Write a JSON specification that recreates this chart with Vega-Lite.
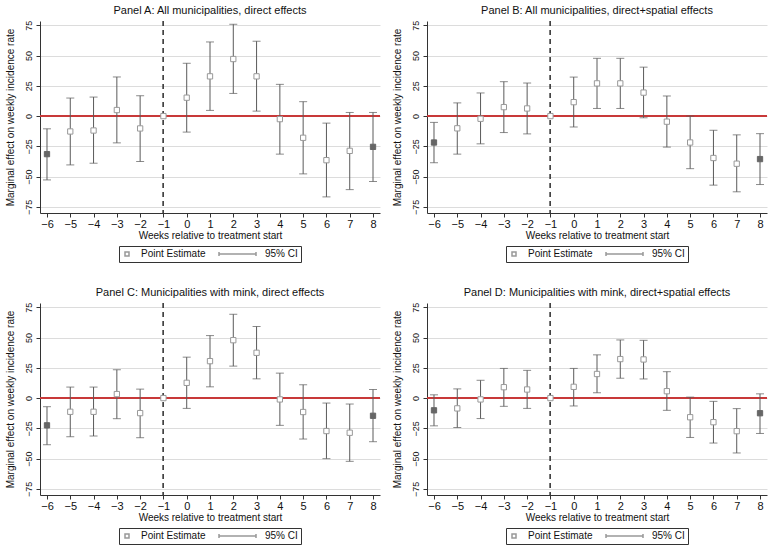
{
  "$schema": "https://vega.github.io/schema/vega-lite/v6.json",
  "background": "white",
  "padding": 5,
  "datasets": {
    "est": [
      {"panel": "A", "week": -6, "est": -31.4, "lo": -52.7, "hi": -10.5},
      {"panel": "A", "week": -5, "est": -12.7, "lo": -40.3, "hi": 14.9},
      {"panel": "A", "week": -4, "est": -11.9, "lo": -38.9, "hi": 15.7},
      {"panel": "A", "week": -3, "est": 5.0, "lo": -22.1, "hi": 32.3},
      {"panel": "A", "week": -2, "est": -10.2, "lo": -37.5, "hi": 16.8},
      {"panel": "A", "week": -1, "est": 0},
      {"panel": "A", "week": 0, "est": 15.2, "lo": -13.2, "hi": 43.6},
      {"panel": "A", "week": 1, "est": 32.8, "lo": 4.7, "hi": 61.2},
      {"panel": "A", "week": 2, "est": 47.1, "lo": 18.7, "hi": 75.8},
      {"panel": "A", "week": 3, "est": 32.8, "lo": 4.1, "hi": 61.8},
      {"panel": "A", "week": 4, "est": -2.5, "lo": -31.4, "hi": 26.2},
      {"panel": "A", "week": 5, "est": -17.9, "lo": -47.7, "hi": 11.9},
      {"panel": "A", "week": 6, "est": -36.4, "lo": -66.7, "hi": -5.8},
      {"panel": "A", "week": 7, "est": -28.7, "lo": -60.7, "hi": 3.0},
      {"panel": "A", "week": 8, "est": -25.4, "lo": -54.0, "hi": 3.0},

      {"panel": "B", "week": -6, "est": -21.8, "lo": -38.5, "hi": -5.2},
      {"panel": "B", "week": -5, "est": -10.1, "lo": -31.4, "hi": 10.9},
      {"panel": "B", "week": -4, "est": -2.2, "lo": -22.9, "hi": 19.1},
      {"panel": "B", "week": -3, "est": 7.4, "lo": -13.6, "hi": 28.4},
      {"panel": "B", "week": -2, "est": 6.3, "lo": -14.7, "hi": 27.3},
      {"panel": "B", "week": -1, "est": 0},
      {"panel": "B", "week": 0, "est": 11.5, "lo": -9.0, "hi": 32.2},
      {"panel": "B", "week": 1, "est": 27.0, "lo": 6.3, "hi": 47.7},
      {"panel": "B", "week": 2, "est": 27.0, "lo": 6.3, "hi": 47.7},
      {"panel": "B", "week": 3, "est": 19.4, "lo": -1.4, "hi": 40.4},
      {"panel": "B", "week": 4, "est": -4.6, "lo": -25.6, "hi": 16.6},
      {"panel": "B", "week": 5, "est": -21.8, "lo": -43.4, "hi": 0.0},
      {"panel": "B", "week": 6, "est": -34.6, "lo": -57.0, "hi": -11.7},
      {"panel": "B", "week": 7, "est": -39.3, "lo": -62.5, "hi": -15.5},
      {"panel": "B", "week": 8, "est": -35.5, "lo": -56.5, "hi": -14.5},

      {"panel": "C", "week": -6, "est": -22.5, "lo": -38.5, "hi": -7.1},
      {"panel": "C", "week": -5, "est": -11.3, "lo": -31.9, "hi": 9.1},
      {"panel": "C", "week": -4, "est": -11.3, "lo": -31.3, "hi": 9.1},
      {"panel": "C", "week": -3, "est": 3.3, "lo": -17.0, "hi": 23.4},
      {"panel": "C", "week": -2, "est": -12.4, "lo": -32.7, "hi": 7.4},
      {"panel": "C", "week": -1, "est": 0},
      {"panel": "C", "week": 0, "est": 12.6, "lo": -8.5, "hi": 33.8},
      {"panel": "C", "week": 1, "est": 30.5, "lo": 9.3, "hi": 51.6},
      {"panel": "C", "week": 2, "est": 47.8, "lo": 26.4, "hi": 69.2},
      {"panel": "C", "week": 3, "est": 37.4, "lo": 15.9, "hi": 59.1},
      {"panel": "C", "week": 4, "est": -1.1, "lo": -22.5, "hi": 20.6},
      {"panel": "C", "week": 5, "est": -11.5, "lo": -33.8, "hi": 11.0},
      {"panel": "C", "week": 6, "est": -27.2, "lo": -50.0, "hi": -4.1},
      {"panel": "C", "week": 7, "est": -28.6, "lo": -52.2, "hi": -4.9},
      {"panel": "C", "week": 8, "est": -14.6, "lo": -36.0, "hi": 7.1},

      {"panel": "D", "week": -6, "est": -10.1, "lo": -22.9, "hi": 2.7},
      {"panel": "D", "week": -5, "est": -8.5, "lo": -24.3, "hi": 7.6},
      {"panel": "D", "week": -4, "est": -1.1, "lo": -16.9, "hi": 14.7},
      {"panel": "D", "week": -3, "est": 9.0, "lo": -6.8, "hi": 24.5},
      {"panel": "D", "week": -2, "est": 7.1, "lo": -8.5, "hi": 22.9},
      {"panel": "D", "week": -1, "est": 0},
      {"panel": "D", "week": 0, "est": 9.3, "lo": -6.5, "hi": 24.5},
      {"panel": "D", "week": 1, "est": 19.9, "lo": 4.4, "hi": 35.7},
      {"panel": "D", "week": 2, "est": 32.2, "lo": 16.4, "hi": 48.0},
      {"panel": "D", "week": 3, "est": 31.9, "lo": 15.8, "hi": 47.7},
      {"panel": "D", "week": 4, "est": 5.7, "lo": -10.1, "hi": 21.8},
      {"panel": "D", "week": 5, "est": -15.8, "lo": -32.5, "hi": 0.8},
      {"panel": "D", "week": 6, "est": -19.9, "lo": -37.1, "hi": -2.7},
      {"panel": "D", "week": 7, "est": -27.3, "lo": -45.3, "hi": -8.7},
      {"panel": "D", "week": 8, "est": -12.5, "lo": -29.2, "hi": 3.5}
    ]
  },
  "config": {
    "font": "Liberation Sans",
    "view": {"stroke": null},
    "axis": {
      "labelFont": "Liberation Sans",
      "titleFont": "Liberation Sans",
      "labelFontSize": 11,
      "titleFontSize": 10,
      "titleFontWeight": "normal",
      "labelColor": "#111",
      "titleColor": "#111",
      "domainColor": "#333",
      "tickColor": "#333",
      "tickSize": 4
    },
    "axisY": {
      "labelFontSize": 9,
      "labelOverlap": false,
      "labelAngle": -90,
      "labelAlign": "center",
      "labelBaseline": "bottom",
      "labelPadding": 3,
      "titlePadding": 9,
      "grid": true,
      "gridColor": "#dcdcdc"
    },
    "title": {"font": "Liberation Sans", "fontSize": 11, "fontWeight": "normal", "color": "#111", "anchor": "middle", "offset": 4},
    "legend": {
      "orient": "bottom",
      "direction": "horizontal",
      "strokeColor": "#333",
      "padding": 3,
      "labelFont": "Liberation Sans",
      "labelFontSize": 10,
      "labelColor": "#111",
      "symbolSize": 16,
      "labelOffset": 9,
      "columnPadding": 10,
      "offset": 6,
      "layout": {"bottom": {"anchor": "middle", "bounds": "flush"}}
    }
  },
  "columns": 2,
  "spacing": {"row": 24, "column": 11},
  "resolve": {"scale": {"shape": "independent", "x": "independent", "y": "independent"}, "legend": {"shape": "independent"}},
  "concat": [
    {
      "title": "Panel A: All municipalities, direct effects",
      "width": 340, "height": 192,
      "data": {"name": "est"},
      "transform": [{"filter": "datum.panel == 'A'"}],
      "encoding": {
        "x": {"field": "week", "type": "quantitative", "scale": {"domain": [-6.3, 8.3], "nice": false, "zero": false},
              "axis": {"title": "Weeks relative to treatment start", "values": [-6,-5,-4,-3,-2,-1,0,1,2,3,4,5,6,7,8], "format": "d", "grid": false, "labelPadding": 1, "titlePadding": 1}}
      },
      "layer": [
        {"mark": {"type": "rule", "color": "#c83a3a", "strokeWidth": 1},
         "encoding": {"x": null, "y": {"datum": 0, "type": "quantitative", "scale": {"domain": [-80, 78.5], "nice": false},
           "axis": {"title": "Marginal effect on weekly incidence rate", "values": [-75,-50,-25,0,25,50,75], "labelOverlap": false, "grid": true, "labelAngle": -90, "labelAlign": "center", "labelBaseline": "bottom"}}}},
        {"mark": {"type": "rule", "color": "#444", "strokeDash": [5, 4]}, "encoding": {"x": {"datum": -1, "type": "quantitative"}}},
        {"mark": {"type": "rule", "color": "#5a5a5a"}, "encoding": {"y": {"field": "lo", "type": "quantitative", "axis": {"title": "Marginal effect on weekly incidence rate", "values": [-75,-50,-25,0,25,50,75], "labelOverlap": false, "grid": true, "labelAngle": -90, "labelAlign": "center", "labelBaseline": "bottom"}}, "y2": {"field": "hi"}}},
        {"mark": {"type": "tick", "orient": "horizontal", "color": "#5a5a5a", "size": 8, "thickness": 1}, "encoding": {"y": {"field": "lo", "type": "quantitative", "axis": {"title": "Marginal effect on weekly incidence rate", "values": [-75,-50,-25,0,25,50,75], "labelOverlap": false, "grid": true, "labelAngle": -90, "labelAlign": "center", "labelBaseline": "bottom"}}}},
        {"mark": {"type": "tick", "orient": "horizontal", "color": "#5a5a5a", "size": 8, "thickness": 1}, "encoding": {"y": {"field": "hi", "type": "quantitative", "axis": {"title": "Marginal effect on weekly incidence rate", "values": [-75,-50,-25,0,25,50,75], "labelOverlap": false, "grid": true, "labelAngle": -90, "labelAlign": "center", "labelBaseline": "bottom"}}}},
        {"mark": {"type": "point", "size": 28, "strokeWidth": 1, "opacity": 1},
         "encoding": {
           "y": {"field": "est", "type": "quantitative", "axis": {"title": "Marginal effect on weekly incidence rate", "values": [-75,-50,-25,0,25,50,75], "labelOverlap": false, "grid": true, "labelAngle": -90, "labelAlign": "center", "labelBaseline": "bottom"}},
           "shape": {"datum": "Point Estimate", "scale": {"domain": ["Point Estimate", "95% CI"], "range": ["square", "M-16,0H2.5M-16,-1V1M2.5,-1V1"]},
             "legend": {"title": null, "encode": {"symbols": {"update": {"stroke": {"value": "#777"}, "fill": {"value": "transparent"}, "strokeWidth": {"value": 1}, "opacity": {"value": 1}, "size": {"value": 16}}}}}},
           "fill": {"condition": {"test": "datum.week == -6 || datum.week == 8", "value": "#666"}, "value": "white"},
           "stroke": {"condition": {"test": "datum.week == -6 || datum.week == 8", "value": "#666"}, "value": "#999"}
         }}
      ]
    },
    {
      "title": "Panel B: All municipalities, direct+spatial effects",
      "width": 340, "height": 192,
      "data": {"name": "est"},
      "transform": [{"filter": "datum.panel == 'B'"}],
      "encoding": {
        "x": {"field": "week", "type": "quantitative", "scale": {"domain": [-6.3, 8.3], "nice": false, "zero": false},
              "axis": {"title": "Weeks relative to treatment start", "values": [-6,-5,-4,-3,-2,-1,0,1,2,3,4,5,6,7,8], "format": "d", "grid": false, "labelPadding": 1, "titlePadding": 1}}
      },
      "layer": [
        {"mark": {"type": "rule", "color": "#c83a3a", "strokeWidth": 1},
         "encoding": {"x": null, "y": {"datum": 0, "type": "quantitative", "scale": {"domain": [-80, 78.5], "nice": false},
           "axis": {"title": "Marginal effect on weekly incidence rate", "values": [-75,-50,-25,0,25,50,75], "labelOverlap": false, "grid": true, "labelAngle": -90, "labelAlign": "center", "labelBaseline": "bottom"}}}},
        {"mark": {"type": "rule", "color": "#444", "strokeDash": [5, 4]}, "encoding": {"x": {"datum": -1, "type": "quantitative"}}},
        {"mark": {"type": "rule", "color": "#5a5a5a"}, "encoding": {"y": {"field": "lo", "type": "quantitative", "axis": {"title": "Marginal effect on weekly incidence rate", "values": [-75,-50,-25,0,25,50,75], "labelOverlap": false, "grid": true, "labelAngle": -90, "labelAlign": "center", "labelBaseline": "bottom"}}, "y2": {"field": "hi"}}},
        {"mark": {"type": "tick", "orient": "horizontal", "color": "#5a5a5a", "size": 8, "thickness": 1}, "encoding": {"y": {"field": "lo", "type": "quantitative", "axis": {"title": "Marginal effect on weekly incidence rate", "values": [-75,-50,-25,0,25,50,75], "labelOverlap": false, "grid": true, "labelAngle": -90, "labelAlign": "center", "labelBaseline": "bottom"}}}},
        {"mark": {"type": "tick", "orient": "horizontal", "color": "#5a5a5a", "size": 8, "thickness": 1}, "encoding": {"y": {"field": "hi", "type": "quantitative", "axis": {"title": "Marginal effect on weekly incidence rate", "values": [-75,-50,-25,0,25,50,75], "labelOverlap": false, "grid": true, "labelAngle": -90, "labelAlign": "center", "labelBaseline": "bottom"}}}},
        {"mark": {"type": "point", "size": 28, "strokeWidth": 1, "opacity": 1},
         "encoding": {
           "y": {"field": "est", "type": "quantitative", "axis": {"title": "Marginal effect on weekly incidence rate", "values": [-75,-50,-25,0,25,50,75], "labelOverlap": false, "grid": true, "labelAngle": -90, "labelAlign": "center", "labelBaseline": "bottom"}},
           "shape": {"datum": "Point Estimate", "scale": {"domain": ["Point Estimate", "95% CI"], "range": ["square", "M-16,0H2.5M-16,-1V1M2.5,-1V1"]},
             "legend": {"title": null, "encode": {"symbols": {"update": {"stroke": {"value": "#777"}, "fill": {"value": "transparent"}, "strokeWidth": {"value": 1}, "opacity": {"value": 1}, "size": {"value": 16}}}}}},
           "fill": {"condition": {"test": "datum.week == -6 || datum.week == 8", "value": "#666"}, "value": "white"},
           "stroke": {"condition": {"test": "datum.week == -6 || datum.week == 8", "value": "#666"}, "value": "#999"}
         }}
      ]
    },
    {
      "title": "Panel C: Municipalities with mink, direct effects",
      "width": 340, "height": 192,
      "data": {"name": "est"},
      "transform": [{"filter": "datum.panel == 'C'"}],
      "encoding": {
        "x": {"field": "week", "type": "quantitative", "scale": {"domain": [-6.3, 8.3], "nice": false, "zero": false},
              "axis": {"title": "Weeks relative to treatment start", "values": [-6,-5,-4,-3,-2,-1,0,1,2,3,4,5,6,7,8], "format": "d", "grid": false, "labelPadding": 1, "titlePadding": 1}}
      },
      "layer": [
        {"mark": {"type": "rule", "color": "#c83a3a", "strokeWidth": 1},
         "encoding": {"x": null, "y": {"datum": 0, "type": "quantitative", "scale": {"domain": [-80, 78.5], "nice": false},
           "axis": {"title": "Marginal effect on weekly incidence rate", "values": [-75,-50,-25,0,25,50,75], "labelOverlap": false, "grid": true, "labelAngle": -90, "labelAlign": "center", "labelBaseline": "bottom"}}}},
        {"mark": {"type": "rule", "color": "#444", "strokeDash": [5, 4]}, "encoding": {"x": {"datum": -1, "type": "quantitative"}}},
        {"mark": {"type": "rule", "color": "#5a5a5a"}, "encoding": {"y": {"field": "lo", "type": "quantitative", "axis": {"title": "Marginal effect on weekly incidence rate", "values": [-75,-50,-25,0,25,50,75], "labelOverlap": false, "grid": true, "labelAngle": -90, "labelAlign": "center", "labelBaseline": "bottom"}}, "y2": {"field": "hi"}}},
        {"mark": {"type": "tick", "orient": "horizontal", "color": "#5a5a5a", "size": 8, "thickness": 1}, "encoding": {"y": {"field": "lo", "type": "quantitative", "axis": {"title": "Marginal effect on weekly incidence rate", "values": [-75,-50,-25,0,25,50,75], "labelOverlap": false, "grid": true, "labelAngle": -90, "labelAlign": "center", "labelBaseline": "bottom"}}}},
        {"mark": {"type": "tick", "orient": "horizontal", "color": "#5a5a5a", "size": 8, "thickness": 1}, "encoding": {"y": {"field": "hi", "type": "quantitative", "axis": {"title": "Marginal effect on weekly incidence rate", "values": [-75,-50,-25,0,25,50,75], "labelOverlap": false, "grid": true, "labelAngle": -90, "labelAlign": "center", "labelBaseline": "bottom"}}}},
        {"mark": {"type": "point", "size": 28, "strokeWidth": 1, "opacity": 1},
         "encoding": {
           "y": {"field": "est", "type": "quantitative", "axis": {"title": "Marginal effect on weekly incidence rate", "values": [-75,-50,-25,0,25,50,75], "labelOverlap": false, "grid": true, "labelAngle": -90, "labelAlign": "center", "labelBaseline": "bottom"}},
           "shape": {"datum": "Point Estimate", "scale": {"domain": ["Point Estimate", "95% CI"], "range": ["square", "M-16,0H2.5M-16,-1V1M2.5,-1V1"]},
             "legend": {"title": null, "encode": {"symbols": {"update": {"stroke": {"value": "#777"}, "fill": {"value": "transparent"}, "strokeWidth": {"value": 1}, "opacity": {"value": 1}, "size": {"value": 16}}}}}},
           "fill": {"condition": {"test": "datum.week == -6 || datum.week == 8", "value": "#666"}, "value": "white"},
           "stroke": {"condition": {"test": "datum.week == -6 || datum.week == 8", "value": "#666"}, "value": "#999"}
         }}
      ]
    },
    {
      "title": "Panel D: Municipalities with mink, direct+spatial effects",
      "width": 340, "height": 192,
      "data": {"name": "est"},
      "transform": [{"filter": "datum.panel == 'D'"}],
      "encoding": {
        "x": {"field": "week", "type": "quantitative", "scale": {"domain": [-6.3, 8.3], "nice": false, "zero": false},
              "axis": {"title": "Weeks relative to treatment start", "values": [-6,-5,-4,-3,-2,-1,0,1,2,3,4,5,6,7,8], "format": "d", "grid": false, "labelPadding": 1, "titlePadding": 1}}
      },
      "layer": [
        {"mark": {"type": "rule", "color": "#c83a3a", "strokeWidth": 1},
         "encoding": {"x": null, "y": {"datum": 0, "type": "quantitative", "scale": {"domain": [-80, 78.5], "nice": false},
           "axis": {"title": "Marginal effect on weekly incidence rate", "values": [-75,-50,-25,0,25,50,75], "labelOverlap": false, "grid": true, "labelAngle": -90, "labelAlign": "center", "labelBaseline": "bottom"}}}},
        {"mark": {"type": "rule", "color": "#444", "strokeDash": [5, 4]}, "encoding": {"x": {"datum": -1, "type": "quantitative"}}},
        {"mark": {"type": "rule", "color": "#5a5a5a"}, "encoding": {"y": {"field": "lo", "type": "quantitative", "axis": {"title": "Marginal effect on weekly incidence rate", "values": [-75,-50,-25,0,25,50,75], "labelOverlap": false, "grid": true, "labelAngle": -90, "labelAlign": "center", "labelBaseline": "bottom"}}, "y2": {"field": "hi"}}},
        {"mark": {"type": "tick", "orient": "horizontal", "color": "#5a5a5a", "size": 8, "thickness": 1}, "encoding": {"y": {"field": "lo", "type": "quantitative", "axis": {"title": "Marginal effect on weekly incidence rate", "values": [-75,-50,-25,0,25,50,75], "labelOverlap": false, "grid": true, "labelAngle": -90, "labelAlign": "center", "labelBaseline": "bottom"}}}},
        {"mark": {"type": "tick", "orient": "horizontal", "color": "#5a5a5a", "size": 8, "thickness": 1}, "encoding": {"y": {"field": "hi", "type": "quantitative", "axis": {"title": "Marginal effect on weekly incidence rate", "values": [-75,-50,-25,0,25,50,75], "labelOverlap": false, "grid": true, "labelAngle": -90, "labelAlign": "center", "labelBaseline": "bottom"}}}},
        {"mark": {"type": "point", "size": 28, "strokeWidth": 1, "opacity": 1},
         "encoding": {
           "y": {"field": "est", "type": "quantitative", "axis": {"title": "Marginal effect on weekly incidence rate", "values": [-75,-50,-25,0,25,50,75], "labelOverlap": false, "grid": true, "labelAngle": -90, "labelAlign": "center", "labelBaseline": "bottom"}},
           "shape": {"datum": "Point Estimate", "scale": {"domain": ["Point Estimate", "95% CI"], "range": ["square", "M-16,0H2.5M-16,-1V1M2.5,-1V1"]},
             "legend": {"title": null, "encode": {"symbols": {"update": {"stroke": {"value": "#777"}, "fill": {"value": "transparent"}, "strokeWidth": {"value": 1}, "opacity": {"value": 1}, "size": {"value": 16}}}}}},
           "fill": {"condition": {"test": "datum.week == -6 || datum.week == 8", "value": "#666"}, "value": "white"},
           "stroke": {"condition": {"test": "datum.week == -6 || datum.week == 8", "value": "#666"}, "value": "#999"}
         }}
      ]
    }
  ]
}
